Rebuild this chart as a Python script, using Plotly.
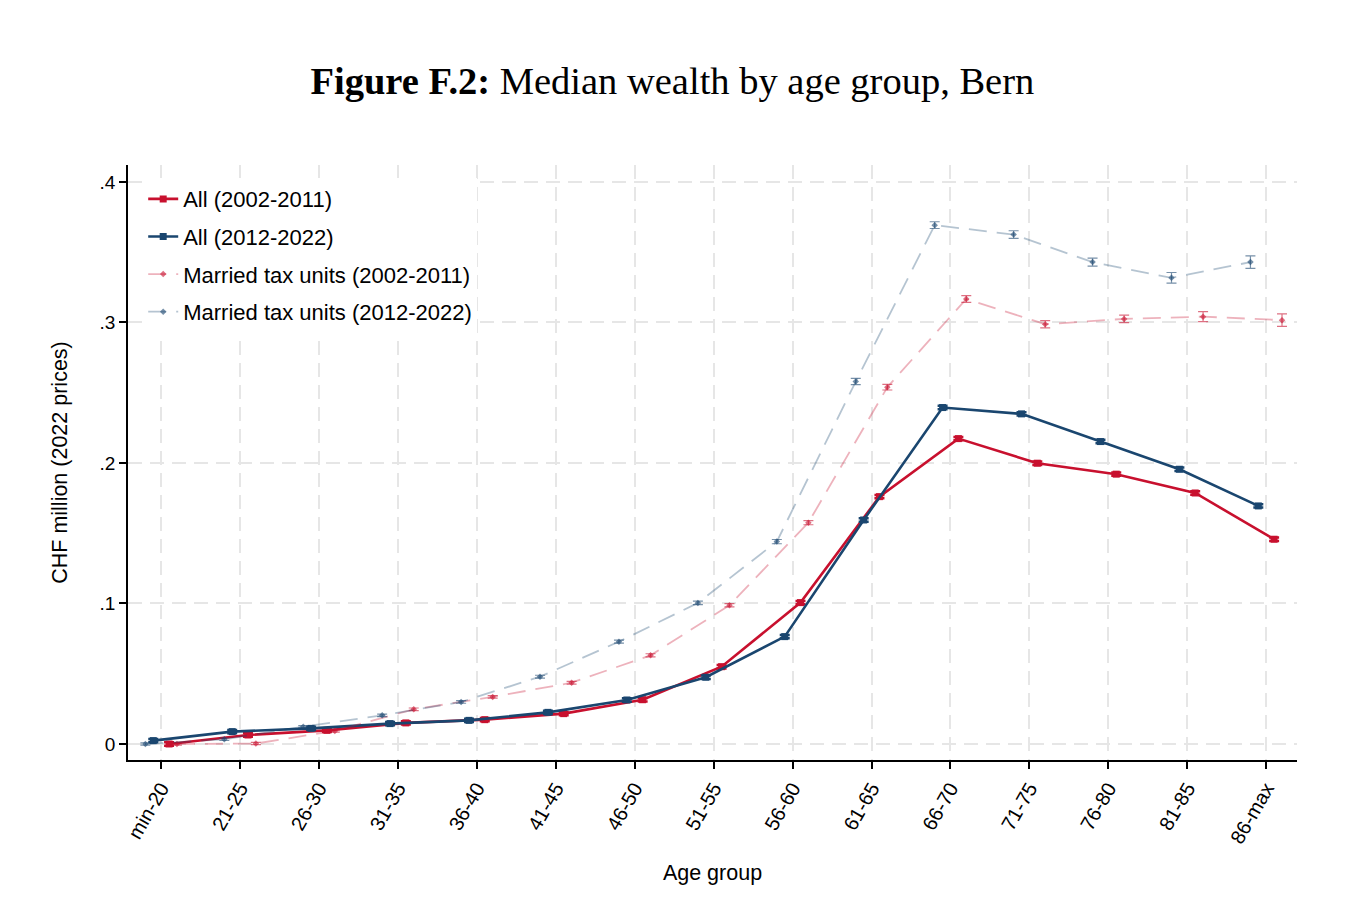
import plotly.graph_objects as go

age_groups = ["min-20", "21-25", "26-30", "31-35", "36-40", "41-45", "46-50", "51-55",
              "56-60", "61-65", "66-70", "71-75", "76-80", "81-85", "86-max"]

all_0211 = [0.000, 0.0064, 0.0097, 0.0150, 0.0173, 0.0216, 0.0315, 0.0550, 0.1006,
            0.1760, 0.2173, 0.1998, 0.1920, 0.1786, 0.1457]
all_0211_err = [0.0012] * 15

all_1222 = [0.0024, 0.0088, 0.0111, 0.0145, 0.0168, 0.0225, 0.0313, 0.0475, 0.0764,
            0.1594, 0.2394, 0.2349, 0.2152, 0.1955, 0.1694]
all_1222_err = [0.0012] * 15

mar_0211 = [0.000, 0.0003, 0.0093, 0.0247, 0.0335, 0.0436, 0.0631, 0.0987, 0.1575,
            0.2539, 0.3167, 0.2987, 0.3025, 0.3041, 0.3016]
mar_0211_err = [0.0008, 0.0008, 0.0008, 0.0009, 0.0009, 0.0010, 0.0011, 0.0012, 0.0015,
                0.0020, 0.0024, 0.0026, 0.0027, 0.0036, 0.0045]

mar_1222 = [0.000, 0.0033, 0.0123, 0.0204, 0.0299, 0.0479, 0.0728, 0.1004, 0.1440,
            0.2579, 0.3692, 0.3625, 0.3429, 0.3317, 0.3429]
mar_1222_err = [0.0008, 0.0008, 0.0008, 0.0009, 0.0009, 0.0010, 0.0011, 0.0012, 0.0015,
                0.0022, 0.0024, 0.0027, 0.0028, 0.0038, 0.0044]

y_tickvals = [0, 0.1, 0.2, 0.3, 0.4]
y_ticktext = ["0", ".1", ".2", ".3", ".4"]

RED = "#C8102E"
BLUE = "#1A466F"
RED_L = "rgba(200,16,46,0.32)"
BLUE_L = "rgba(26,70,111,0.32)"
RED_M = "rgba(200,16,46,0.6)"
BLUE_M = "rgba(26,70,111,0.6)"

idx = list(range(len(age_groups)))

def shifted(off):
    return [i + off for i in idx]

fig = go.Figure()

fig.add_trace(go.Scatter(
    x=shifted(0.1), y=all_0211, mode="lines+markers", name="All (2002-2011)",
    legendgroup="a",
    line=dict(color=RED, width=2.6),
    marker=dict(symbol="square", size=7, color=RED),
    error_y=dict(type="data", array=all_0211_err, color=RED, thickness=2.5, width=5),
))
fig.add_trace(go.Scatter(
    x=shifted(-0.1), y=all_1222, mode="lines+markers", name="All (2012-2022)",
    legendgroup="b",
    line=dict(color=BLUE, width=2.6),
    marker=dict(symbol="square", size=7, color=BLUE),
    error_y=dict(type="data", array=all_1222_err, color=BLUE, thickness=2.5, width=5),
))
fig.add_trace(go.Scatter(
    x=shifted(0.2), y=mar_0211, mode="lines+markers", name="Married tax units (2002-2011)",
    legendgroup="c",
    line=dict(color=RED_L, width=1.8, dash="18px,10px"),
    marker=dict(symbol="diamond", size=5, color=RED_M),
    error_y=dict(type="data", array=mar_0211_err, color=RED_M, thickness=1.2, width=5),
))
fig.add_trace(go.Scatter(
    x=shifted(-0.2), y=mar_1222, mode="lines+markers", name="Married tax units (2012-2022)",
    legendgroup="d",
    line=dict(color=BLUE_L, width=1.8, dash="18px,10px"),
    marker=dict(symbol="diamond", size=5, color=BLUE_M),
    error_y=dict(type="data", array=mar_1222_err, color=BLUE_M, thickness=1.2, width=5),
))

fig.update_layout(
    width=1367, height=905,
    paper_bgcolor="white", plot_bgcolor="white",
    margin=dict(l=120, r=78, t=157, b=153),
    font=dict(family="Liberation Sans, Arial, sans-serif", color="black"),
    title=dict(
        text="<b>Figure F.2:</b> Median wealth by age group, Bern",
        font=dict(family="Liberation Serif, serif", size=38.5, color="black"),
        x=0.486, xanchor="center", y=0.920, yanchor="middle",
    ),
    showlegend=True,
    legend=dict(
        x=0.013, y=0.978, xanchor="left", yanchor="top",
        bgcolor="white", borderwidth=0,
        font=dict(size=22, color="black"),
        tracegroupgap=6, itemwidth=30,
    ),
)

fig.update_xaxes(
    range=[-0.42, 14.39],
    tickmode="array", tickvals=idx, ticktext=age_groups,
    tickangle=-60, tickfont=dict(size=20),
    ticks="outside", ticklen=7, tickcolor="black", tickwidth=1.5,
    showline=True, linecolor="black", linewidth=1.5,
    showgrid=True, gridcolor="#E6E6E6", gridwidth=2, griddash="14px,8px",
    zeroline=False,
    title=dict(text="Age group", font=dict(size=21.5), standoff=18),
)
fig.update_yaxes(
    range=[-0.0114, 0.412],
    tickmode="array", tickvals=y_tickvals, ticktext=y_ticktext,
    tickfont=dict(size=19),
    ticks="outside", ticklen=7, tickcolor="black", tickwidth=1.5,
    showline=True, linecolor="black", linewidth=1.5,
    showgrid=True, gridcolor="#E6E6E6", gridwidth=2, griddash="14px,8px",
    zeroline=False,
    title=dict(text="CHF million (2022 prices)", font=dict(size=21.5), standoff=26),
)

fig.write_html("out.html")
